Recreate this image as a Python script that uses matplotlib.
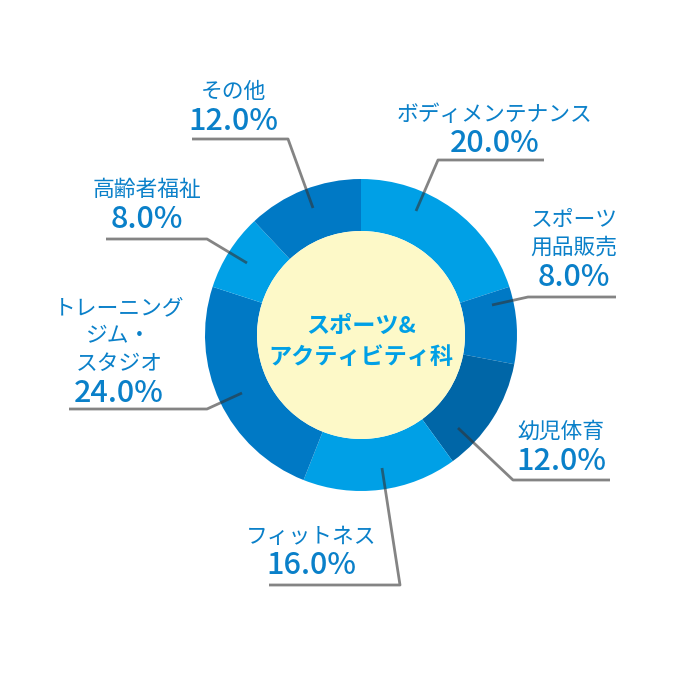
import matplotlib.pyplot as plt
from matplotlib.patches import Circle

plt.rcParams['font.family'] = ['Noto Sans CJK JP', 'DejaVu Sans']

labels = ['ボディメンテナンス', 'スポーツ\n用品販売', '幼児体育', 'フィットネス',
          'トレーニング\nジム・\nスタジオ', '高齢者福祉', 'その他']
shares = [20.0, 8.0, 12.0, 16.0, 24.0, 8.0, 12.0]
center_title = 'スポーツ&\nアクティビティ科'

light, mid, dark = '#00a0e6', '#0079c5', '#0066a7'
colors = [light, mid, dark, light, mid, light, mid]
text_c = '#0a80c9'
line_c = (0.2, 0.2, 0.2)

# layout in image pixels (x, y from top)
cx, cy, R, r_in = 361, 335, 156, 104
starts = [(416, 211), (492, 305), (458, 428), (382, 468), (242, 393), (247, 263), (313, 208)]
elbows = [(438, 160), (528, 297), (513, 480), (400, 585), (207, 409), (207, 239), (288, 139)]
ends = [(544, 160), (616, 297), (610, 480), (269, 585), (69, 409), (106, 239), (192, 139)]
text_x = [495, 574, 561, 311, 119, 147, 233]
pct_y = [144, 277, 461, 566, 393, 219, 121]


def P(x, y):
    return x, 700 - y


fig = plt.figure(figsize=(7, 7), dpi=100)
ax = fig.add_axes([0, 0, 1, 1])

ax.pie(shares, colors=colors, startangle=90, counterclock=False,
       center=P(cx, cy), radius=R, frame=True,
       wedgeprops=dict(width=R - r_in, linewidth=0))
ax.set_xlim(0, 700)
ax.set_ylim(0, 700)
ax.set_aspect('equal')
ax.axis('off')
ax.add_patch(Circle(P(cx, cy), r_in, facecolor='#fdf9c8', edgecolor='none', zorder=2))
ax.text(*P(cx, 342), center_title, ha='center', va='center', fontsize=16.7,
        fontweight='bold', color='#00a0e6', linespacing=1.42, zorder=3)

for lab, v, s, e, f, tx, py in zip(labels, shares, starts, elbows, ends, text_x, pct_y):
    xs = [s[0], e[0], f[0]]
    ys = [700 - s[1], 700 - e[1], 700 - f[1]]
    ax.plot(xs, ys, color=line_c, alpha=0.6, lw=2, solid_capstyle='butt', zorder=4)
    ax.text(*P(tx, py), f'{v:.1f}%', ha='center', va='center', fontsize=22,
            fontweight='medium', color=text_c, zorder=5)
    ax.text(*P(tx, py - 18), lab, ha='center', va='bottom', fontsize=15.7,
            color=text_c, linespacing=1.35, zorder=5)

fig.savefig('out.png', dpi=100)
